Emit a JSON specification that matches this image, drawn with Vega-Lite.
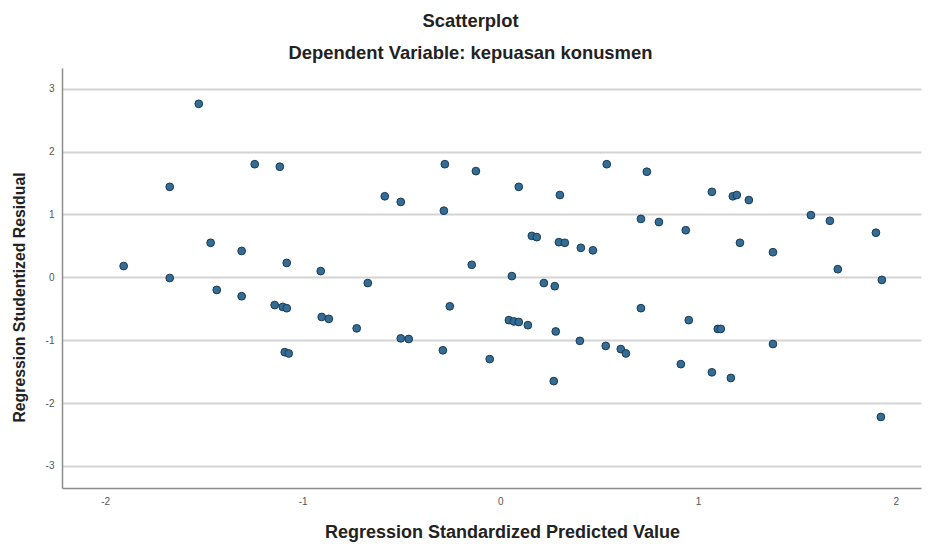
{
  "$schema": "https://vega.github.io/schema/vega-lite/v6.json",
  "autosize": "none",
  "width": 859,
  "height": 420,
  "padding": {"left": 62, "top": 68, "right": 10, "bottom": 56},
  "background": "white",
  "title": {
    "text": "Scatterplot",
    "subtitle": "Dependent Variable: kepuasan konusmen",
    "anchor": "middle",
    "dx": -21,
    "offset": 6,
    "font": "Liberation Sans",
    "fontSize": 18.4,
    "fontWeight": "bold",
    "color": "#222222",
    "subtitleFont": "Liberation Sans",
    "subtitleFontSize": 18.4,
    "subtitleFontWeight": "bold",
    "subtitleColor": "#222222",
    "subtitlePadding": 13
  },
  "data": {
    "values": [
      {"x": -1.906, "y": 0.18}, {"x": -1.673, "y": 1.44}, {"x": -1.673, "y": -0.01}, {"x": -1.526, "y": 2.76},
      {"x": -1.466, "y": 0.55}, {"x": -1.435, "y": -0.20}, {"x": -1.309, "y": 0.42}, {"x": -1.309, "y": -0.30},
      {"x": -1.243, "y": 1.80}, {"x": -1.116, "y": 1.76}, {"x": -1.142, "y": -0.44}, {"x": -1.101, "y": -0.47},
      {"x": -1.081, "y": -0.49}, {"x": -1.081, "y": 0.23}, {"x": -1.091, "y": -1.19}, {"x": -1.071, "y": -1.21},
      {"x": -0.909, "y": 0.10}, {"x": -0.904, "y": -0.63}, {"x": -0.868, "y": -0.66}, {"x": -0.727, "y": -0.81},
      {"x": -0.671, "y": -0.09}, {"x": -0.585, "y": 1.29}, {"x": -0.504, "y": 1.20}, {"x": -0.504, "y": -0.97},
      {"x": -0.464, "y": -0.98}, {"x": -0.281, "y": 1.80}, {"x": -0.286, "y": 1.06}, {"x": -0.291, "y": -1.16},
      {"x": -0.256, "y": -0.46}, {"x": -0.124, "y": 1.69}, {"x": -0.145, "y": 0.20}, {"x": -0.054, "y": -1.30},
      {"x": 0.093, "y": 1.44}, {"x": 0.058, "y": 0.02}, {"x": 0.043, "y": -0.68}, {"x": 0.068, "y": -0.70},
      {"x": 0.093, "y": -0.71}, {"x": 0.139, "y": -0.76}, {"x": 0.159, "y": 0.66}, {"x": 0.184, "y": 0.64},
      {"x": 0.220, "y": -0.09}, {"x": 0.275, "y": -0.14}, {"x": 0.280, "y": -0.86}, {"x": 0.270, "y": -1.65},
      {"x": 0.301, "y": 1.31}, {"x": 0.296, "y": 0.56}, {"x": 0.326, "y": 0.55}, {"x": 0.407, "y": 0.47},
      {"x": 0.468, "y": 0.43}, {"x": 0.402, "y": -1.01}, {"x": 0.538, "y": 1.80}, {"x": 0.533, "y": -1.09},
      {"x": 0.609, "y": -1.14}, {"x": 0.635, "y": -1.21}, {"x": 0.741, "y": 1.68}, {"x": 0.711, "y": 0.93},
      {"x": 0.711, "y": -0.49}, {"x": 0.802, "y": 0.88}, {"x": 0.938, "y": 0.75}, {"x": 0.913, "y": -1.38},
      {"x": 0.953, "y": -0.68}, {"x": 1.070, "y": 1.36}, {"x": 1.070, "y": -1.51}, {"x": 1.100, "y": -0.82},
      {"x": 1.115, "y": -0.82}, {"x": 1.176, "y": 1.29}, {"x": 1.196, "y": 1.31}, {"x": 1.166, "y": -1.60},
      {"x": 1.212, "y": 0.55}, {"x": 1.257, "y": 1.23}, {"x": 1.379, "y": 0.40}, {"x": 1.379, "y": -1.06},
      {"x": 1.571, "y": 0.99}, {"x": 1.667, "y": 0.90}, {"x": 1.707, "y": 0.13}, {"x": 1.900, "y": 0.71},
      {"x": 1.930, "y": -0.04}, {"x": 1.925, "y": -2.22}
    ]
  },
  "mark": {"type": "point", "filled": true, "shape": "circle", "size": 60, "color": "#336d96", "stroke": "#1c3a52", "strokeWidth": 1, "opacity": 1},
  "encoding": {
    "x": {
      "field": "x", "type": "quantitative",
      "scale": {"domain": [-2.218, 2.128], "nice": false, "zero": false},
      "axis": {
        "title": "Regression Standardized Predicted Value",
        "values": [-2, -1, 0, 1, 2],
        "labelExpr": "toString(datum.value)",
        "grid": false,
        "ticks": false,
        "domainColor": "#8c8c8c",
        "domainWidth": 1.5,
        "labelFont": "Liberation Sans",
        "labelFontSize": 10,
        "labelColor": "#555555",
        "labelPadding": 8,
        "titleFont": "Liberation Sans",
        "titleFontSize": 18,
        "titleFontWeight": "bold",
        "titleColor": "#222222",
        "titlePadding": 17,
        "titleX": 440
      }
    },
    "y": {
      "field": "y", "type": "quantitative",
      "scale": {"domain": [-3.35, 3.33], "nice": false, "zero": false},
      "axis": {
        "title": "Regression Studentized Residual",
        "values": [-3, -2, -1, 0, 1, 2, 3],
        "labelExpr": "toString(datum.value)",
        "grid": true,
        "gridColor": "#d4d4d4",
        "gridWidth": 2,
        "ticks": false,
        "domainColor": "#8c8c8c",
        "domainWidth": 1.5,
        "labelFont": "Liberation Sans",
        "labelFontSize": 10,
        "labelColor": "#555555",
        "labelPadding": 8,
        "titleFont": "Liberation Sans",
        "titleFontSize": 15.8,
        "titleFontWeight": "bold",
        "titleColor": "#222222",
        "titlePadding": 18,
        "titleY": 229
      }
    }
  },
  "config": {"view": {"stroke": null}}
}
